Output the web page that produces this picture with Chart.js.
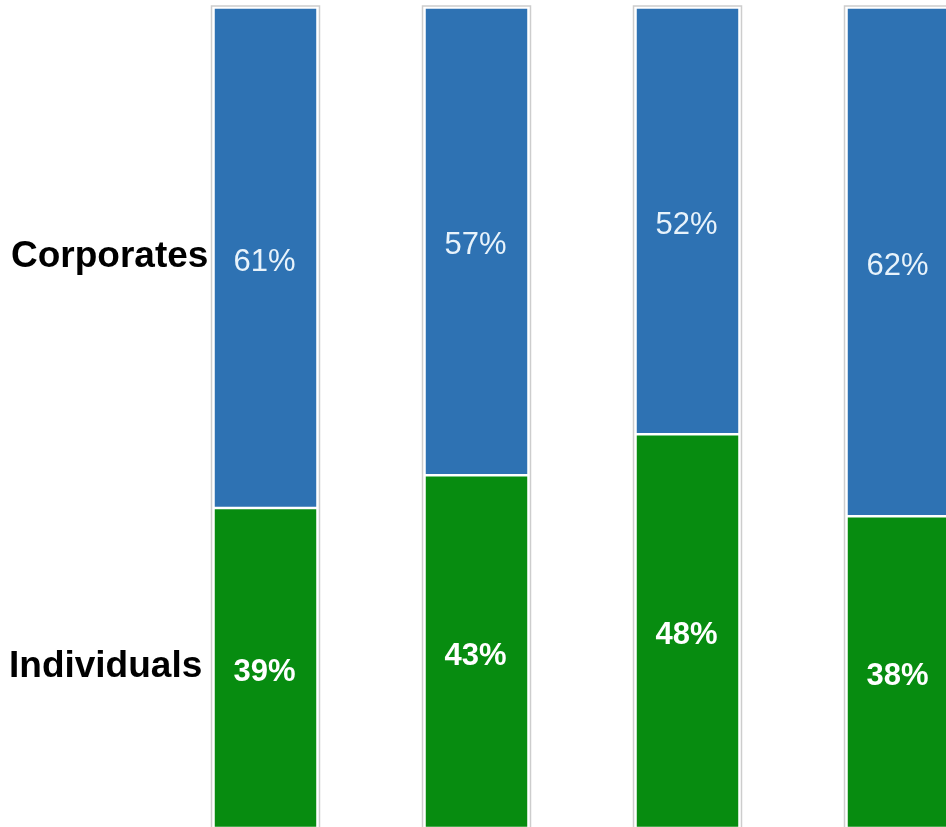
<!DOCTYPE html>
<html>
<head>
<meta charset="utf-8">
<script src="https://cdn.jsdelivr.net/npm/chart.js@4/dist/chart.umd.min.js"></script>
<style>
  html, body { margin: 0; padding: 0; background: #ffffff; overflow: hidden; }
  #wrap { width: 946px; height: 827px; overflow: hidden; position: relative; }
  canvas { display: block; }
</style>
</head>
<body>
<div id="wrap"><canvas id="c" width="1010" height="832"></canvas></div>
<script>
// Share of each group, one value per column
const categories = ['A', 'B', 'C', 'D'];
const seriesNames = ['Individuals', 'Corporates'];
const individuals = [39, 43, 48, 38];
const corporates = [61, 57, 52, 62];

const BLUE = '#2e72b3';
const GREEN = '#078c10';

// Draws the percentage inside each segment, the grey frame round every column
// and the series names to the left of the first column.
const segmentText = {
  id: 'segmentText',
  afterDatasetsDraw(chart) {
    const ctx = chart.ctx;
    const area = chart.chartArea;
    ctx.save();

    // grey frame around each full column
    const meta0 = chart.getDatasetMeta(0);
    ctx.strokeStyle = '#cdcdcd';
    ctx.lineWidth = 1.5;
    meta0.data.forEach(bar => {
      const w = bar.width;
      ctx.strokeRect(bar.x - w / 2 - 2, area.top - 1.5, w + 4, area.bottom - area.top + 10);
    });

    // values inside segments
    const styles = [
      { font: 'bold 31px "Liberation Sans", Arial, sans-serif', color: '#ffffff' },
      { font: '31px "Liberation Sans", Arial, sans-serif', color: '#e8f3fb' }
    ];
    chart.data.datasets.forEach((ds, di) => {
      const meta = chart.getDatasetMeta(di);
      ctx.font = styles[di].font;
      ctx.fillStyle = styles[di].color;
      ctx.textAlign = 'center';
      ctx.textBaseline = 'alphabetic';
      meta.data.forEach((bar, i) => {
        const top = Math.min(bar.y, bar.base);
        const bottom = Math.max(bar.y, bar.base);
        const mid = (top + bottom) / 2;
        ctx.fillText(ds.data[i] + '%', bar.x - 1, mid + 13);
      });
    });

    // series names beside the first column
    ctx.font = 'bold 37px "Liberation Sans", Arial, sans-serif';
    ctx.fillStyle = '#000000';
    ctx.textAlign = 'left';
    const nameX = [9, 11];
    chart.data.datasets.forEach((ds, di) => {
      const bar = chart.getDatasetMeta(di).data[0];
      const mid = (bar.y + bar.base) / 2;
      ctx.fillText(ds.label, nameX[di], mid + 9);
    });
    ctx.restore();
  }
};

new Chart(document.getElementById('c'), {
  type: 'bar',
  data: {
    labels: categories,
    datasets: [
      {
        label: seriesNames[0],
        data: individuals,
        backgroundColor: GREEN,
        borderColor: '#ffffff',
        borderWidth: 1.6,
        borderSkipped: false
      },
      {
        label: seriesNames[1],
        data: corporates,
        backgroundColor: BLUE,
        borderColor: '#ffffff',
        borderWidth: 1.6,
        borderSkipped: false
      }
    ]
  },
  options: {
    responsive: false,
    animation: false,
    layout: { padding: { left: 160, right: 6, top: 7.5, bottom: 4 } },
    datasets: { bar: { barThickness: 104, categoryPercentage: 1, barPercentage: 1 } },
    scales: {
      x: { stacked: true, display: false },
      y: { stacked: true, display: false, min: 0, max: 100 }
    },
    plugins: {
      legend: { display: false },
      tooltip: { enabled: false }
    }
  },
  plugins: [segmentText]
});
</script>
</body>
</html>
